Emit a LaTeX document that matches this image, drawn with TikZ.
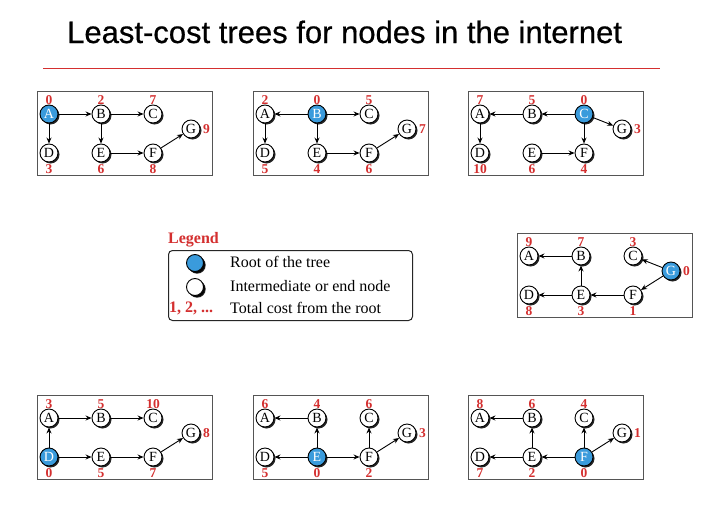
\documentclass[tikz,border=0pt]{standalone}
\usepackage{fontspec}
\setmainfont{Liberation Serif}
\newfontfamily\titlefont[FakeBold=0.6]{Liberation Sans}
\usetikzlibrary{shadows,arrows.meta}
\definecolor{cred}{HTML}{D42F2F}
\definecolor{cblue}{HTML}{3A9BDC}
\definecolor{cframe}{HTML}{555555}
\def\setcosts#1,#2,#3,#4,#5,#6,#7\relax{\def\cA{#1}\def\cB{#2}\def\cC{#3}\def\cD{#4}\def\cE{#5}\def\cF{#6}\def\cG{#7}}
\newcommand\drawtree[5]{%
  \setcosts#5\relax
  \begin{scope}[shift={(#2,#3)}, sty#4/.style={root}]
    \node[frame, anchor=north west] (#1box) at (0,0) {};
    \node[styA] (#1A) at (12,23) {A};
    \node[styB] (#1B) at (64,23) {B};
    \node[styC] (#1C) at (116,23) {C};
    \node[styD] (#1D) at (12,62) {D};
    \node[styE] (#1E) at (64,62) {E};
    \node[styF] (#1F) at (116,62) {F};
    \node[styG] (#1G) at (154,38) {G};
    \node[cost] (#1cA) at (12,9) {\cA};
    \node[cost] (#1cB) at (64,9) {\cB};
    \node[cost] (#1cC) at (116,9) {\cC};
    \node[cost] (#1cD) at (12,78) {\cD};
    \node[cost] (#1cE) at (64,78) {\cE};
    \node[cost] (#1cF) at (116,78) {\cF};
    \node[cost, anchor=west] (#1cG) at (166,38) {\cG};
  \end{scope}}
\begin{document}
\begin{tikzpicture}[x=1pt,y=-1pt,
  nd/.style={circle, draw=black, line width=0.9pt, fill=white, minimum size=18pt, inner sep=0pt,
    font=\fontsize{14}{14}\selectfont,
    drop shadow={shadow xshift=1.5pt, shadow yshift=-1.5pt, fill=black, opacity=0.85}},
  root/.style={nd, fill=cblue, text=white},
  styA/.style={nd}, styB/.style={nd}, styC/.style={nd}, styD/.style={nd},
  styE/.style={nd}, styF/.style={nd}, styG/.style={nd},
  cost/.style={text=cred, font=\bfseries\fontsize{13.5}{13.5}\selectfont, inner sep=0pt},
  arr/.style={-{Stealth[length=6pt,width=5pt]}, line width=0.9pt},
  frame/.style={draw=cframe, line width=1.2pt, minimum width=175pt, minimum height=84pt, inner sep=0pt},
  legtext/.style={anchor=west, inner sep=0pt, font=\fontsize{16}{16}\selectfont}]
\useasboundingbox (0,0) rectangle (709,506);
\fill[white] (0,0) rectangle (709,506);

% title
\node[font=\titlefont\fontsize{31}{31}\selectfont, anchor=base west, inner sep=0pt] (title) at (67,43) {Least-cost trees for nodes in the internet};
\coordinate (rl1) at (43,68);
\coordinate (rl2) at (660,68);
\draw[cred, line width=1pt] (rl1) -- (rl2);

% tree A
\drawtree{ta}{37}{91}{A}{0,2,7,3,6,8,9}
\draw[arr] (taA) -- (taB);
\draw[arr] (taB) -- (taC);
\draw[arr] (taA) -- (taD);
\draw[arr] (taB) -- (taE);
\draw[arr] (taE) -- (taF);
\draw[arr] (taF) -- (taG);

% tree B
\drawtree{tb}{253}{91}{B}{2,0,5,5,4,6,7}
\draw[arr] (tbB) -- (tbA);
\draw[arr] (tbB) -- (tbC);
\draw[arr] (tbA) -- (tbD);
\draw[arr] (tbB) -- (tbE);
\draw[arr] (tbE) -- (tbF);
\draw[arr] (tbF) -- (tbG);

% tree C
\drawtree{tc}{468}{91}{C}{7,5,0,10,6,4,3}
\draw[arr] (tcC) -- (tcB);
\draw[arr] (tcB) -- (tcA);
\draw[arr] (tcA) -- (tcD);
\draw[arr] (tcC) -- (tcF);
\draw[arr] (tcC) -- (tcG);
\draw[arr] (tcE) -- (tcF);

% tree G
\drawtree{tg}{517}{233}{G}{9,7,3,8,3,1,0}
\draw[arr] (tgG) -- (tgC);
\draw[arr] (tgG) -- (tgF);
\draw[arr] (tgF) -- (tgE);
\draw[arr] (tgE) -- (tgB);
\draw[arr] (tgB) -- (tgA);
\draw[arr] (tgE) -- (tgD);

% tree D
\drawtree{td}{37}{395}{D}{3,5,10,0,5,7,8}
\draw[arr] (tdD) -- (tdA);
\draw[arr] (tdA) -- (tdB);
\draw[arr] (tdB) -- (tdC);
\draw[arr] (tdD) -- (tdE);
\draw[arr] (tdE) -- (tdF);
\draw[arr] (tdF) -- (tdG);

% tree E
\drawtree{te}{253}{395}{E}{6,4,6,5,0,2,3}
\draw[arr] (teE) -- (teB);
\draw[arr] (teB) -- (teA);
\draw[arr] (teE) -- (teD);
\draw[arr] (teE) -- (teF);
\draw[arr] (teF) -- (teC);
\draw[arr] (teF) -- (teG);

% tree F
\drawtree{tf}{468}{395}{F}{8,6,4,7,2,0,1}
\draw[arr] (tfF) -- (tfE);
\draw[arr] (tfE) -- (tfB);
\draw[arr] (tfB) -- (tfA);
\draw[arr] (tfE) -- (tfD);
\draw[arr] (tfF) -- (tfC);
\draw[arr] (tfF) -- (tfG);

% legend
\node[anchor=west, inner sep=0pt, text=cred, font=\bfseries\fontsize{16}{16}\selectfont] (legtitle) at (168,240) {Legend};
\node[draw=black!85, line width=1pt, rounded corners=4pt, minimum width=244pt, minimum height=70pt, anchor=north west, inner sep=0pt] (legbox) at (168,250) {};
\node[root, minimum size=17pt, drop shadow={shadow xshift=2.2pt, shadow yshift=-2.2pt, fill=black, opacity=0.85}] (lroot) at (195,263) {};
\node[nd, minimum size=17pt, drop shadow={shadow xshift=2.2pt, shadow yshift=-2.2pt, fill=black, opacity=0.85}] (lnode) at (195,287) {};
\node[legtext] (lt1) at (230,262) {Root of the tree};
\node[legtext] (lt2) at (230,286) {Intermediate or end node};
\node[legtext] (lt3) at (230,308) {Total cost from the root};
\node[legtext, text=cred, font=\bfseries\fontsize{16}{16}\selectfont] (lt4) at (169,308) {1, 2, ...};
\end{tikzpicture}
\end{document}
